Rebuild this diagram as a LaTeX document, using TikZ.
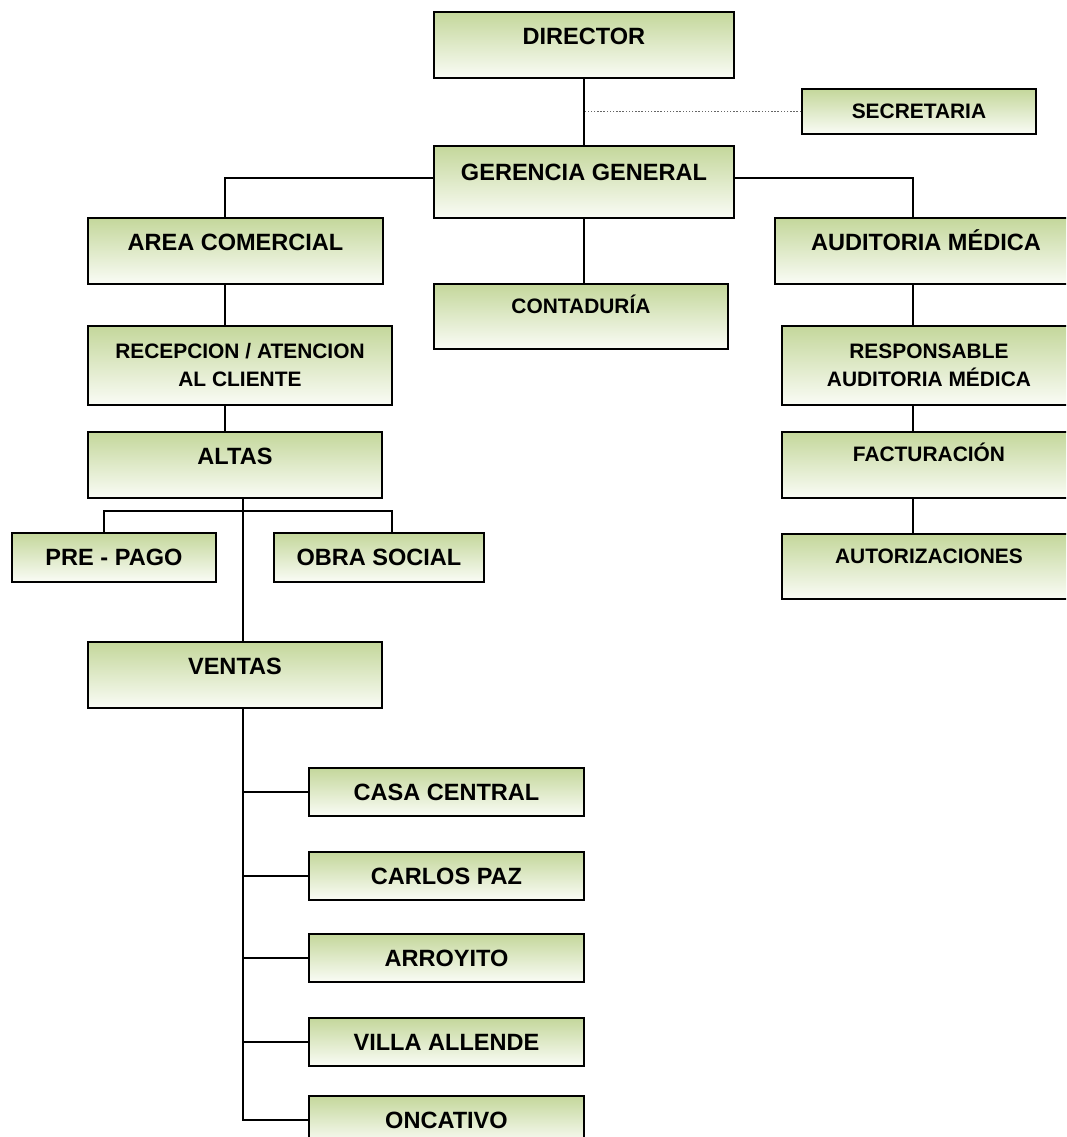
\documentclass[tikz,border=0pt]{standalone}
\usepackage{fontspec}
\setmainfont{Liberation Sans}
\usepackage{tikz}

\definecolor{gtop}{RGB}{196,215,155}
\definecolor{gbot}{RGB}{250,252,246}

\begin{document}
\begin{tikzpicture}[
    orgbox/.style={draw, line width=1.1pt, top color=gtop, bottom color=gbot,
        anchor=north west, inner sep=0pt, align=center},
    bigbox/.style={orgbox, font=\bfseries\fontsize{13.4}{16}\selectfont, text height=0.66cm},
    smallbox/.style={orgbox, font=\bfseries\fontsize{11.9}{15.9}\selectfont, text height=0.60cm},
    twobox/.style={orgbox, font=\bfseries\fontsize{11.9}{15.9}\selectfont},
    wire/.style={line width=1pt}]
    \clip (0,0) rectangle (21.32,-22.74);

    \node[bigbox, minimum width=6cm, text depth=0.66cm] (dir) at (8.66,-0.22) {DIRECTOR};
    \node[smallbox, minimum width=4.68cm, text depth=0.30cm] (sec) at (16.02,-1.76) {SECRETARIA};
    \node[bigbox, minimum width=6cm, text height=0.70cm, text depth=0.74cm] (ger) at (8.66,-2.90) {GERENCIA GENERAL};
    \node[bigbox, minimum width=5.90cm, text depth=0.66cm] (com) at (1.74,-4.34) {AREA COMERCIAL};
    \node[bigbox, minimum width=6.04cm, text depth=0.66cm] (aud) at (15.48,-4.34) {AUDITORIA MÉDICA};
    \node[smallbox, minimum width=5.88cm, text depth=0.70cm] (cont) at (8.66,-5.66) {CONTADURÍA};
    \node[twobox, minimum width=6.08cm, minimum height=1.58cm] (rec) at (1.74,-6.50) {RECEPCION / ATENCION\\AL CLIENTE};
    \node[twobox, minimum width=5.88cm, minimum height=1.58cm] (resp) at (15.62,-6.50) {RESPONSABLE\\AUDITORIA MÉDICA};
    \node[bigbox, minimum width=5.88cm, text depth=0.66cm] (alt) at (1.74,-8.62) {ALTAS};
    \node[smallbox, minimum width=5.88cm, text depth=0.72cm] (fac) at (15.62,-8.62) {FACTURACIÓN};
    \node[bigbox, minimum width=4.08cm, text depth=0.32cm] (pre) at (0.22,-10.64) {PRE - PAGO};
    \node[bigbox, minimum width=4.20cm, text depth=0.32cm] (obra) at (5.46,-10.64) {OBRA SOCIAL};
    \node[smallbox, minimum width=5.88cm, text depth=0.70cm] (aut) at (15.62,-10.66) {AUTORIZACIONES};
    \node[bigbox, minimum width=5.88cm, text depth=0.66cm] (ven) at (1.74,-12.82) {VENTAS};
    \node[bigbox, minimum width=5.50cm, text depth=0.30cm] (casa) at (6.16,-15.34) {CASA CENTRAL};
    \node[bigbox, minimum width=5.50cm, text depth=0.30cm] (carlos) at (6.16,-17.02) {CARLOS PAZ};
    \node[bigbox, minimum width=5.50cm, text depth=0.30cm] (arroyo) at (6.16,-18.66) {ARROYITO};
    \node[bigbox, minimum width=5.50cm, text depth=0.30cm] (villa) at (6.16,-20.34) {VILLA ALLENDE};
    \node[bigbox, minimum width=5.50cm, text depth=0.30cm] (onca) at (6.16,-21.90) {ONCATIVO};

    \coordinate (colA) at (4.50,0);
    \coordinate (colB) at (4.86,0);
    \coordinate (colC) at (18.26,0);
    \coordinate (altj) at (4.86,-10.22);

    \draw[wire] (dir) -- (ger);
    \draw[gray!80!black, densely dotted, line width=0.8pt] (sec.west) -- (sec.west -| dir.south);
    \draw[wire] ([yshift=0.08cm]ger.west) -| (colA |- com.north);
    \draw[wire] ([yshift=0.08cm]ger.east) -| (colC |- aud.north);
    \draw[wire] (ger.south) -- (ger.south |- cont.north);
    \draw[wire] (colA |- com.south) -- (colA |- rec.north);
    \draw[wire] (colA |- rec.south) -- (colA |- alt.north);
    \draw[wire] (colB |- alt.south) -- (colB |- ven.north);
    \draw[wire] ([xshift=-0.2cm]pre.north) |- (altj) -| ([xshift=0.26cm]obra.north);
    \draw[wire] (colC |- aud.south) -- (colC |- resp.north);
    \draw[wire] (colC |- resp.south) -- (colC |- fac.north);
    \draw[wire] (colC |- fac.south) -- (colC |- aut.north);
    \draw[wire] (colB |- ven.south) |- (onca.west);
    \foreach \n in {casa,carlos,arroyo,villa}
        \draw[wire] (colB |- \n.west) -- (\n.west);
\end{tikzpicture}
\end{document}
